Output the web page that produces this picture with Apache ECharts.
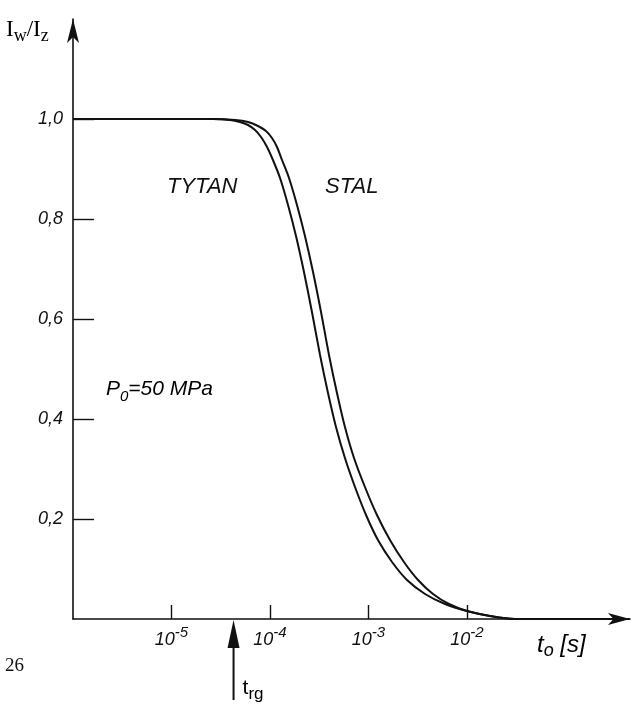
<!DOCTYPE html>
<html>
<head>
<meta charset="utf-8">
<script src="https://cdn.jsdelivr.net/npm/echarts@6/dist/echarts.min.js"></script>
<style>
  html, body { margin: 0; padding: 0; background: #fff; }
  #main { width: 635px; height: 711px; }
</style>
</head>
<body>
<div id="main"></div>
<script>
var tytanLogT = [-6, -5, -4.579, -4.406, -4.305, -4.223, -4.152, -4.091, -4.030, -3.970, -3.898, -3.817, -3.736, -3.655, -3.574, -3.492, -3.411, -3.330, -3.239, -3.137, -3.025, -2.904, -2.761, -2.609, -2.426, -2.223, -2.0, -1.766, -1.513, -0.35];
var tytanVal = [1.0, 1.0, 1.0, 0.998, 0.994, 0.988, 0.978, 0.964, 0.944, 0.918, 0.882, 0.828, 0.766, 0.694, 0.614, 0.528, 0.452, 0.384, 0.322, 0.264, 0.208, 0.158, 0.114, 0.078, 0.050, 0.030, 0.016, 0.006, 0, 0];
var stalLogT = [-6, -5, -4.579, -4.355, -4.223, -4.122, -4.041, -3.980, -3.929, -3.878, -3.807, -3.726, -3.645, -3.563, -3.482, -3.401, -3.320, -3.239, -3.147, -3.036, -2.914, -2.782, -2.640, -2.497, -2.345, -2.183, -2.0, -1.766, -1.513, -0.35];
var stalVal = [1.0, 1.0, 1.0, 0.998, 0.994, 0.986, 0.976, 0.962, 0.944, 0.918, 0.882, 0.828, 0.766, 0.694, 0.614, 0.528, 0.452, 0.384, 0.322, 0.264, 0.208, 0.158, 0.114, 0.078, 0.050, 0.030, 0.016, 0.006, 0, 0];

var yTicks = [0.2, 0.4, 0.6, 0.8, 1.0];
var xTicks = [1e-5, 1e-4, 1e-3, 1e-2];
var trgLogT = -4.37;

var sans = '"Liberation Sans", Arial, sans-serif';
var serif = '"Liberation Serif", "Times New Roman", serif';

function toPairs(logT, vals) {
  var out = [];
  for (var i = 0; i < logT.length; i++) {
    out.push([Math.pow(10, logT[i]), vals[i]]);
  }
  return out;
}

var chart = echarts.init(document.getElementById('main'), null, { renderer: 'canvas' });

var option = {
  backgroundColor: '#fff',
  animation: false,
  grid: { left: 73, right: 5, top: 19, bottom: 92 },
  xAxis: {
    type: 'log',
    logBase: 10,
    min: 1e-6,
    max: Math.pow(10, -0.345),
    axisLine: {
      lineStyle: { color: '#111', width: 1.6 },
      symbol: ['none', 'arrow'],
      symbolSize: [9, 22]
    },
    axisTick: {
      inside: true,
      length: 14,
      customValues: xTicks,
      lineStyle: { color: '#111', width: 1.4 }
    },
    axisLabel: {
      customValues: xTicks,
      margin: 6,
      color: '#111',
      fontFamily: sans,
      formatter: function (v) {
        var e = Math.round(Math.log(v) / Math.LN10);
        return '{b|10}{s|' + e + '}';
      },
      rich: {
        b: { fontSize: 18, lineHeight: 30, fontStyle: 'italic', fontFamily: sans, color: '#111' },
        s: { fontSize: 15, lineHeight: 15, verticalAlign: 'top', fontStyle: 'italic', fontFamily: sans, color: '#111' }
      }
    },
    splitLine: { show: false }
  },
  yAxis: {
    type: 'value',
    min: 0,
    max: 1.2,
    interval: 0.2,
    axisLine: {
      lineStyle: { color: '#111', width: 1.6 },
      symbol: ['none', 'arrow'],
      symbolSize: [9, 24]
    },
    axisTick: {
      inside: true,
      length: 21,
      customValues: yTicks,
      lineStyle: { color: '#111', width: 1.4 }
    },
    axisLabel: {
      customValues: yTicks,
      margin: 10,
      color: '#111',
      fontSize: 18,
      fontStyle: 'italic',
      fontFamily: sans,
      formatter: function (v) {
        return v.toFixed(1).replace('.', ',');
      }
    },
    splitLine: { show: false }
  },
  series: [{
    name: 'TYTAN',
    type: 'line',
    data: toPairs(tytanLogT, tytanVal),
    showSymbol: false,
    smooth: 0.3,
    lineStyle: { color: '#111', width: 2 }
  }, {
    name: 'STAL',
    type: 'line',
    data: toPairs(stalLogT, stalVal),
    showSymbol: false,
    smooth: 0.3,
    lineStyle: { color: '#111', width: 2 }
  }]
};

chart.setOption(option);

// strzalka t_rg pod osia - pozycja z osi
var p = chart.convertToPixel({ xAxisIndex: 0, yAxisIndex: 0 }, [Math.pow(10, trgLogT), 0]);
var subRich = function (size, subSize, italic, font) {
  return {
    m: { fontSize: size, lineHeight: 30, fontStyle: italic ? 'italic' : 'normal', fontFamily: font, color: '#111' },
    s: { fontSize: subSize, lineHeight: subSize, verticalAlign: 'bottom', fontStyle: italic ? 'italic' : 'normal', fontFamily: font, color: '#111' }
  };
};

chart.setOption({
  graphic: [
    {
      type: 'text', x: 6, y: 30,
      style: { text: '{m|I}{s|w}{m|/I}{s|z}', verticalAlign: 'middle', rich: subRich(23, 18, false, serif) }
    },
    {
      type: 'text', x: 537, y: 645,
      style: { text: '{m|t}{s|o}{m| [s]}', verticalAlign: 'middle', rich: subRich(24, 18, true, sans) }
    },
    {
      type: 'text', x: 167, y: 187,
      style: { text: 'TYTAN', verticalAlign: 'middle', font: 'italic 22px ' + sans, fill: '#111' }
    },
    {
      type: 'text', x: 325, y: 187,
      style: { text: 'STAL', verticalAlign: 'middle', font: 'italic 22px ' + sans, fill: '#111' }
    },
    {
      type: 'text', x: 106, y: 389,
      style: { text: '{m|P}{s|0}{m|=50 MPa}', verticalAlign: 'middle', rich: subRich(21, 15, true, sans) }
    },
    {
      type: 'polygon',
      shape: { points: [[p[0], p[1] + 1], [p[0] - 6, p[1] + 29], [p[0] + 6, p[1] + 29]] },
      style: { fill: '#111' }
    },
    {
      type: 'line',
      shape: { x1: p[0], y1: p[1] + 20, x2: p[0], y2: p[1] + 81 },
      style: { stroke: '#111', lineWidth: 2 }
    },
    {
      type: 'text', x: p[0] + 9, y: 688,
      style: { text: '{m|t}{s|rg}', verticalAlign: 'middle', rich: subRich(21, 17, false, sans) }
    },
    {
      type: 'text', x: 5, y: 666,
      style: { text: '26', verticalAlign: 'middle', font: '19px ' + serif, fill: '#111' }
    }
  ]
});
</script>
</body>
</html>
